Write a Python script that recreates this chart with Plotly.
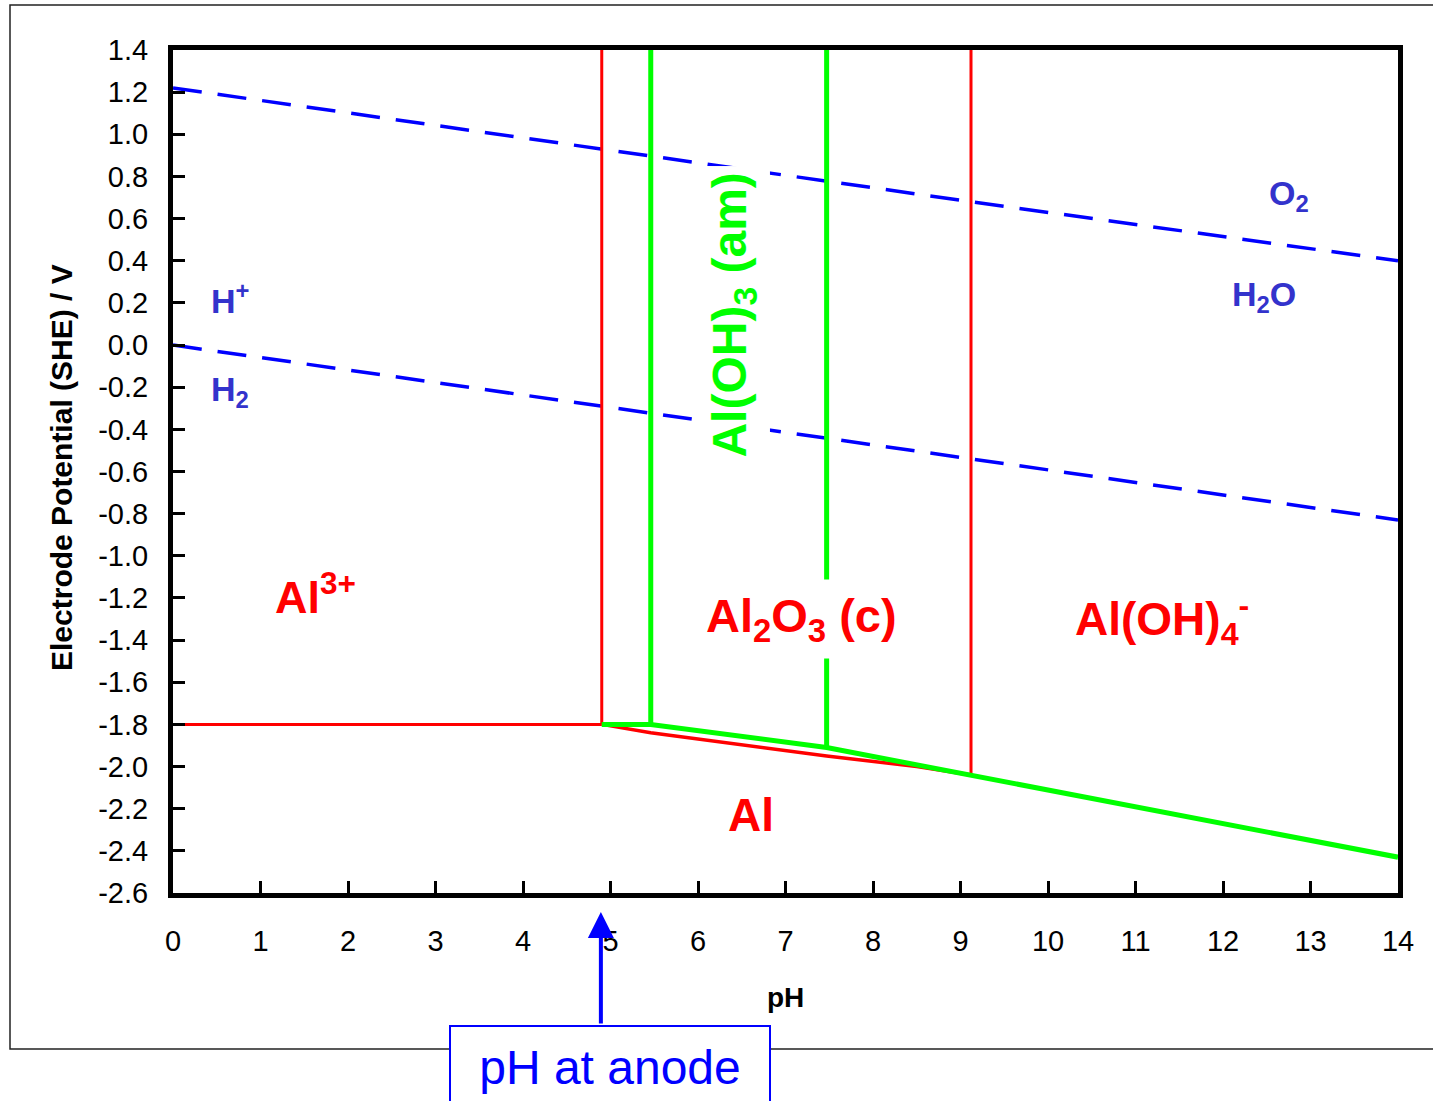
import plotly.graph_objects as go

# ---------------- data ----------------
ph_al3_boundary = [0, 4.9]
e_al3_boundary = [-1.80, -1.80]

ph_red_left_vert = [4.9, 4.9]
e_red_left_vert = [-1.80, 1.40]

ph_red_al2o3_al = [4.9, 5.46, 7.47, 8.5, 9.12]
e_red_al2o3_al = [-1.80, -1.84, -1.95, -2.00, -2.04]

ph_red_right_vert = [9.12, 9.12]
e_red_right_vert = [-2.04, 1.40]

ph_green_bottom = [4.9, 5.46, 7.47, 9.12, 14]
e_green_bottom = [-1.80, -1.80, -1.91, -2.04, -2.43]

ph_green_left_vert = [5.46, 5.46]
e_green_left_vert = [-1.80, 1.40]

ph_green_right_vert = [7.47, 7.47]
e_green_right_vert = [-1.91, 1.40]

ph_water = [0, 4.9, 5.46, 7.47, 9.12, 14]
e_o2_h2o = [1.22, 0.93, 0.90, 0.78, 0.68, 0.40]
e_h_h2 = [0.00, -0.29, -0.32, -0.44, -0.54, -0.83]

x_ticks = list(range(0, 15))
y_ticks = [1.4, 1.2, 1.0, 0.8, 0.6, 0.4, 0.2, 0.0, -0.2, -0.4, -0.6, -0.8, -1.0,
           -1.2, -1.4, -1.6, -1.8, -2.0, -2.2, -2.4, -2.6]
y_tick_text = ["1.4", "1.2", "1.0", "0.8", "0.6", "0.4", "0.2", "0.0", "-0.2", "-0.4",
               "-0.6", "-0.8", "-1.0", "-1.2", "-1.4", "-1.6", "-1.8", "-2.0", "-2.2",
               "-2.4", "-2.6"]

anode_ph = 4.89

FONT = "Arial, Liberation Sans, sans-serif"
RED = "#FF0000"
GREEN = "#00FF00"
BLUE = "#0000FF"
LBLUE = "#3333CC"

fig = go.Figure()

def line(x, y, color, width, dash=None):
    fig.add_trace(go.Scatter(x=x, y=y, mode="lines",
                             line=dict(color=color, width=width, dash=dash),
                             hoverinfo="skip", showlegend=False))

line(ph_water, e_o2_h2o, BLUE, 3.5, "29px,16px")
line(ph_water, e_h_h2, BLUE, 3.5, "29px,16px")
line(ph_al3_boundary, e_al3_boundary, RED, 3)
line(ph_red_left_vert, e_red_left_vert, RED, 3)
line(ph_red_right_vert, e_red_right_vert, RED, 3)
line(ph_red_al2o3_al, e_red_al2o3_al, RED, 3.5)
line(ph_green_left_vert, e_green_left_vert, GREEN, 5)
line(ph_green_right_vert, e_green_right_vert, GREEN, 5)
line(ph_green_bottom, e_green_bottom, GREEN, 5)

W, H = 1433, 1101
L, R, T, B = 173, 35, 50, 208
pw, ph = W - L - R, H - T - B

def px(xp):
    return (xp - L) / pw

def py(yp):
    return (H - B - yp) / ph

annotations = []

def lab(x, y, text, color, size, bold=True, bg=None, angle=0, pad=1):
    annotations.append(dict(x=x, y=y, xref="x", yref="y", text=text, showarrow=False,
                            font=dict(family=FONT, size=size, color=color),
                            bgcolor=bg, textangle=angle, borderpad=pad,
                            xanchor="center", yanchor="middle"))

lab(0.65, 0.22, "<b>H<sup>+</sup></b>", LBLUE, 34)
lab(0.65, -0.22, "<b>H<sub>2</sub></b>", LBLUE, 34)
lab(12.75, 0.71, "<b>O<sub>2</sub></b>", LBLUE, 34)
lab(12.47, 0.23, "<b>H<sub>2</sub>O</b>", LBLUE, 34)
lab(1.63, -1.18, "<b>Al<sup>3+</sup></b>", RED, 45)
lab(7.18, -1.30, "<b>Al<sub>2</sub>O<sub>3</sub> (c)</b>", RED, 47, bg="white", pad=9)
lab(11.3, -1.30, "<b>Al(OH)<sub>4</sub><sup>-</sup></b>", RED, 46)
lab(6.6, -2.23, "<b>Al</b>", RED, 46)
lab(6.4, 0.14, "<b>Al(OH)<sub>3</sub> (am)</b>", GREEN, 48, bg="white", angle=-90, pad=6)

# axis titles
annotations.append(dict(x=px(785), y=py(997), xref="paper", yref="paper",
                        text="<b>pH</b>", showarrow=False,
                        font=dict(family=FONT, size=28, color="black"),
                        xanchor="center", yanchor="middle"))
annotations.append(dict(x=px(62), y=py(468), xref="paper", yref="paper",
                        text="<b>Electrode Potential (SHE) / V</b>", showarrow=False,
                        textangle=-90,
                        font=dict(family=FONT, size=30, color="black"),
                        xanchor="center", yanchor="middle"))

# pH at anode box + arrow
annotations.append(dict(x=px(610), y=py(1025), xref="paper", yref="paper",
                        text="pH at anode", showarrow=False,
                        font=dict(family=FONT, size=48, color=BLUE),
                        bgcolor="white", bordercolor=BLUE, borderwidth=2, borderpad=0,
                        width=318, height=80, valign="middle",
                        xanchor="center", yanchor="top"))
annotations.append(dict(x=anode_ph, y=py(912), xref="x", yref="paper",
                        text="", showarrow=True, ax=0, ay=113,
                        arrowhead=2, arrowsize=1.3, arrowwidth=4, arrowcolor=BLUE))

shapes = [dict(type="rect", xref="paper", yref="paper",
               x0=px(10), x1=px(1445), y0=py(1049), y1=py(5),
               line=dict(color="#222222", width=1.5), fillcolor="rgba(0,0,0,0)",
               layer="below")]

fig.update_layout(
    width=W, height=H,
    margin=dict(l=L, r=R, t=T, b=B),
    paper_bgcolor="white", plot_bgcolor="white",
    font=dict(family=FONT, size=28, color="black"),
    annotations=annotations, shapes=shapes,
    showlegend=False,
)
fig.update_xaxes(range=[0, 14], tickvals=x_ticks, ticks="inside", ticklen=12,
                 tickwidth=3, tickcolor="black", showline=True, linewidth=5,
                 linecolor="black", mirror=True, showgrid=False, zeroline=False,
                 ticklabelstandoff=18, tickfont=dict(size=29, family=FONT))
fig.update_yaxes(range=[-2.6, 1.4], tickvals=y_ticks, ticktext=y_tick_text,
                 ticks="inside", ticklen=12, tickwidth=3, tickcolor="black",
                 showline=True, linewidth=5, linecolor="black", mirror=True,
                 showgrid=False, zeroline=False, ticklabelstandoff=14,
                 tickfont=dict(size=29, family=FONT))

fig.write_html("out.html")
